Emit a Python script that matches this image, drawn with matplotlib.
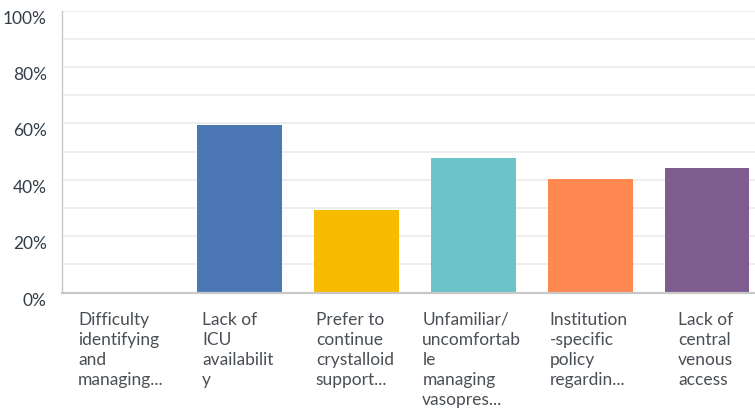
import matplotlib.pyplot as plt
import numpy as np

# survey answers and share of respondents (percent)
categories = [
	"Difficulty\nidentifying\nand\nmanaging...",
	"Lack of\nICU\navailabilit\ny",
	"Prefer to\ncontinue\ncrystalloid\nsupport...",
	"Unfamiliar/\nuncomfortab\nle\nmanaging\nvasopres...",
	"Institution\n-specific\npolicy\nregardin...",
	"Lack of\ncentral\nvenous\naccess",
]
values = [0, 59.3, 29.3, 47.6, 40.1, 44.1]
colors = ["#4b77b4", "#4b77b4", "#f7bc00", "#6dc4c8", "#ff8750", "#7e5c8e"]
yticks = [0, 20, 40, 60, 80, 100]
ytick_labels = ["0%", "20%", "40%", "60%", "80%", "100%"]

W, H = 755, 408
fig = plt.figure(figsize=(W / 100, H / 100), dpi=100)
ax_left, ax_top, ax_bottom = 62, 10.5, 292.5
ax = fig.add_axes([ax_left / W, (H - ax_bottom) / H, (W - ax_left) / W, (ax_bottom - ax_top) / H])

plt.rcParams['font.family'] = ['Lato', 'DejaVu Sans']

x = np.arange(len(categories))
ax.bar(x, values, width=0.725, color=colors, zorder=3)

ax.set_ylim(0, 100)
ax.set_xlim(-0.516, 5.41)

# light gridlines every 10%
for g in range(10, 101, 10):
	ax.axhline(g, color="#ebebeb", linewidth=1.2, zorder=1)

ax.set_yticks(yticks)
ax.set_yticklabels(ytick_labels, fontsize=12.5, color="#333e48", family=['Lato', 'DejaVu Sans'], va='top')
ax.tick_params(axis='y', length=0, pad=11)
ax.set_xticks([])

for side in ["top", "right"]:
	ax.spines[side].set_visible(False)
ax.spines["left"].set_color("#c8c8c8")
ax.spines["left"].set_linewidth(1.0)
ax.spines["bottom"].set_color("#c8c8c8")
ax.spines["bottom"].set_linewidth(1.6)
ax.spines["bottom"].set_zorder(4)

# category labels: block centred under each bar, lines left aligned
trans = ax.get_xaxis_transform()
for i in range(len(categories)):
	ax.annotate(categories[i], xy=(x[i], 0), xycoords=trans, xytext=(-1, -14), textcoords='offset points',
		ha='center', va='top', multialignment='left', annotation_clip=False,
		fontsize=12.5, color="#4a4f55", linespacing=1.3, family=['Lato', 'DejaVu Sans'])

fig.savefig("out.png", dpi=100)
